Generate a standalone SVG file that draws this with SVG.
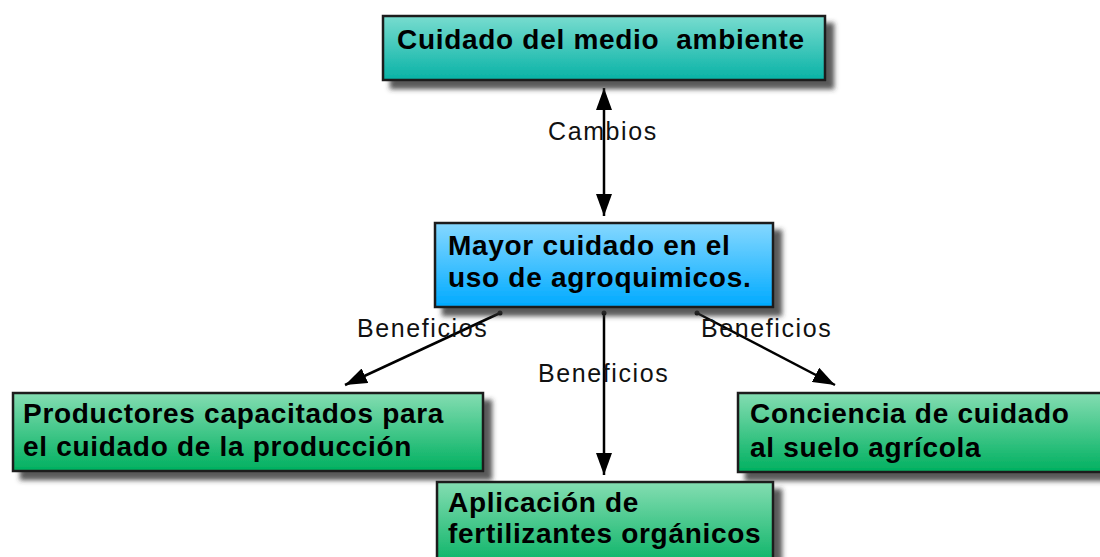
<svg xmlns="http://www.w3.org/2000/svg" width="1100" height="557" viewBox="0 0 1100 557">
<defs>
<linearGradient id="gTeal" x1="0" y1="0" x2="0" y2="1">
<stop offset="0" stop-color="#78dccf"/><stop offset="1" stop-color="#08b2a6"/>
</linearGradient>
<linearGradient id="gBlue" x1="0" y1="0" x2="0" y2="1">
<stop offset="0" stop-color="#86d8ff"/><stop offset="1" stop-color="#00aaff"/>
</linearGradient>
<linearGradient id="gGreen" x1="0" y1="0" x2="0" y2="1">
<stop offset="0" stop-color="#84ddb2"/><stop offset="1" stop-color="#00b060"/>
</linearGradient>
<filter id="sh" x="-10%" y="-20%" width="130%" height="160%">
<feDropShadow dx="8" dy="8" stdDeviation="2.5" flood-color="#333" flood-opacity="0.8"/>
</filter>
<marker id="ah" viewBox="0 0 22 16" refX="22" refY="8" markerWidth="22" markerHeight="16" markerUnits="userSpaceOnUse" orient="auto-start-reverse">
<path d="M0,0 L22,8 L0,16 Z" fill="#000"/>
</marker>
<style>
.box{stroke:#1a1a1a;stroke-width:2.5;filter:url(#sh)}
.bt{font-family:"Liberation Sans",Arial,sans-serif;font-weight:bold;font-size:28px;fill:#000;letter-spacing:0.7px}
.lt{font-family:"Liberation Sans",Arial,sans-serif;font-size:25px;fill:#111;letter-spacing:1.6px}
.cn{stroke:#000;stroke-width:2.5;fill:none}
</style>
</defs>
<g id="connectors">
<line class="cn" x1="604" y1="88" x2="604" y2="216" marker-start="url(#ah)" marker-end="url(#ah)"/>
<line class="cn" x1="604" y1="313" x2="604" y2="475" marker-end="url(#ah)"/>
<line class="cn" x1="500" y1="313" x2="345" y2="385" marker-end="url(#ah)"/>
<line class="cn" x1="697" y1="313" x2="835" y2="385" marker-end="url(#ah)"/>
<circle cx="604" cy="313" r="2.5" fill="#000"/>
<circle cx="500" cy="313" r="2.5" fill="#000"/>
<circle cx="697" cy="313" r="2.5" fill="#000"/>
<text class="lt" x="548" y="140">Cambios</text>
<text class="lt" x="538" y="382">Beneficios</text>
<text class="lt" x="357" y="337">Beneficios</text>
<text class="lt" x="701" y="337">Beneficios</text>
</g>
<g id="node-medio-ambiente">
<rect class="box" x="383" y="16" width="442" height="64" fill="url(#gTeal)"/>
<text class="bt" x="397" y="49" xml:space="preserve">Cuidado del medio  ambiente</text>
</g>
<g id="node-mayor-cuidado">
<rect class="box" x="435" y="223" width="338" height="84" fill="url(#gBlue)"/>
<text class="bt" x="448" y="255">Mayor cuidado en el</text>
<text class="bt" x="448" y="287">uso de agroquimicos.</text>
</g>
<g id="node-productores">
<rect class="box" x="13" y="393" width="470" height="78" fill="url(#gGreen)"/>
<text class="bt" x="23" y="423">Productores capacitados para</text>
<text class="bt" x="23" y="456">el cuidado de la producción</text>
</g>
<g id="node-conciencia">
<rect class="box" x="738" y="393" width="372" height="79" fill="url(#gGreen)"/>
<text class="bt" x="750" y="423">Conciencia de cuidado</text>
<text class="bt" x="750" y="457">al suelo agrícola</text>
</g>
<g id="node-aplicacion">
<rect class="box" x="437" y="482" width="336" height="90" fill="url(#gGreen)"/>
<text class="bt" x="448" y="512">Aplicación de</text>
<text class="bt" x="448" y="543">fertilizantes orgánicos</text>
</g>
</svg>
